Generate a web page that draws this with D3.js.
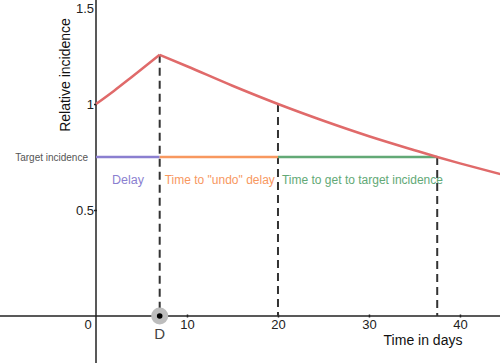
<!DOCTYPE html>
<html><head><meta charset="utf-8">
<script src="https://cdn.jsdelivr.net/npm/d3@7"></script>
<style>html,body{margin:0;padding:0;background:#fff;}svg{display:block;font-family:"Liberation Sans",Arial,sans-serif;}</style>
</head><body>
<svg id="c" width="500" height="363"></svg>
<script>
// Data
const growthDays = [0, 2, 4, 7];
const growthValues = [1, 1.063, 1.13, 1.232];
const decayDays = [7, 10, 15, 20, 25, 30, 35, 37.5, 40, 45];
const decayValues = [1.232, 1.178, 1.086, 1, 0.921, 0.848, 0.782, 0.75, 0.72, 0.663];
const delayDay = 7, undoEndDay = 20, targetDay = 37.5;
const targetLevel = 0.75;
const xTicks = [10, 20, 30, 40];
const yTicks = [0.5, 1, 1.5];
const segments = [
  {from: 0, to: 7, label: "Delay", color: "#8b7fd0"},
  {from: 7, to: 20, label: "Time to \"undo\" delay", color: "#f8985f"},
  {from: 20, to: 37.5, label: "Time to get to target incidence", color: "#62a976"}
];

const svg = d3.select("#c");
const x = d3.scaleLinear().domain([0, 44.4]).range([96, 500]);
const y = d3.scaleLinear().domain([0, 1.5]).range([316, -2]);

// axes
svg.append("line").attr("x1", 0).attr("x2", 500).attr("y1", y(0)).attr("y2", y(0))
  .attr("stroke", "#222").attr("stroke-width", 1.5);
svg.append("line").attr("x1", x(0)).attr("x2", x(0)).attr("y1", 0).attr("y2", 363)
  .attr("stroke", "#222").attr("stroke-width", 1.5);

const xAxis = d3.axisBottom(x).tickValues(xTicks).tickSize(3).tickFormat(d3.format("d"));
const gx = svg.append("g").attr("transform", `translate(0,${y(0) - 1.5})`).call(xAxis);
gx.select(".domain").remove();
gx.selectAll(".tick line").attr("stroke", "#222").attr("stroke-width", 1.5);
gx.selectAll(".tick text").attr("fill", "#222").attr("font-size", 13).attr("y", 5)
  .attr("font-family", "Liberation Sans, Arial, sans-serif");

const yAxis = d3.axisLeft(y).tickValues(yTicks).tickSize(3).tickFormat(d => d);
const gy = svg.append("g").attr("transform", `translate(${x(0) + 1},0)`).call(yAxis);
gy.select(".domain").remove();
gy.selectAll(".tick line").attr("stroke", "#222").attr("stroke-width", 1.5);
gy.selectAll(".tick text").attr("fill", "#222").attr("font-size", 13).attr("x", -3)
  .attr("font-family", "Liberation Sans, Arial, sans-serif");
// keep the top label inside the view
gy.selectAll(".tick").filter(d => d === 1.5).select("text").attr("dy", "0.32em").attr("y", 10);

svg.append("text").attr("x", x(0) - 8).attr("y", 329).attr("text-anchor", "middle")
  .attr("font-size", 13).attr("fill", "#222").text("0");

// axis titles
svg.append("text").attr("x", 423).attr("y", 345).attr("text-anchor", "middle")
  .attr("font-size", 14).attr("fill", "#111").text("Time in days");
svg.append("text").attr("transform", "translate(70,75) rotate(-90)").attr("text-anchor", "middle")
  .attr("font-size", 14).attr("fill", "#111").text("Relative incidence");

// dashed verticals
const dashes = [[delayDay, growthValues[growthValues.length - 1]], [undoEndDay, 1], [targetDay, targetLevel]];
svg.selectAll(".dash").data(dashes).enter().append("line")
  .attr("x1", d => x(d[0])).attr("x2", d => x(d[0]))
  .attr("y1", d => y(d[1])).attr("y2", y(0))
  .attr("stroke", "#333").attr("stroke-width", 2).attr("stroke-dasharray", "8,5");

// target segments
svg.selectAll(".seg").data(segments).enter().append("line")
  .attr("x1", d => x(d.from)).attr("x2", d => x(d.to))
  .attr("y1", y(targetLevel)).attr("y2", y(targetLevel))
  .attr("stroke", d => d.color).attr("stroke-width", 2.5);

svg.append("text").attr("x", 128).attr("y", 184).attr("text-anchor", "middle")
  .attr("font-size", 12.5).attr("fill", segments[0].color).text(segments[0].label);
svg.append("text").attr("x", x(segments[1].from) + 5).attr("y", 184)
  .attr("font-size", 12).attr("fill", segments[1].color).text(segments[1].label);
svg.append("text").attr("x", x(segments[2].from) + 4).attr("y", 184)
  .attr("font-size", 12).attr("fill", segments[2].color).text(segments[2].label);

svg.append("text").attr("x", 88).attr("y", 161).attr("text-anchor", "end")
  .attr("font-size", 10).attr("fill", "#555").text("Target incidence");

// incidence curve
const line = d3.line().x(d => x(d[0])).y(d => y(d[1])).curve(d3.curveMonotoneX);
[[growthDays, growthValues], [decayDays, decayValues]].forEach(([ds, vs]) => {
  svg.append("path").datum(ds.map((d, i) => [d, vs[i]]))
    .attr("d", line).attr("fill", "none").attr("stroke", "#e06a6a").attr("stroke-width", 2.5)
    .attr("stroke-linejoin", "round");
});

// D marker
svg.append("circle").attr("cx", x(delayDay)).attr("cy", y(0)).attr("r", 8.5).attr("fill", "#bdbdbd");
svg.append("circle").attr("cx", x(delayDay)).attr("cy", y(0)).attr("r", 2.8).attr("fill", "#000");
svg.append("text").attr("x", x(delayDay)).attr("y", 339).attr("text-anchor", "middle")
  .attr("font-size", 15).attr("fill", "#444").text("D");
</script>
</body></html>
